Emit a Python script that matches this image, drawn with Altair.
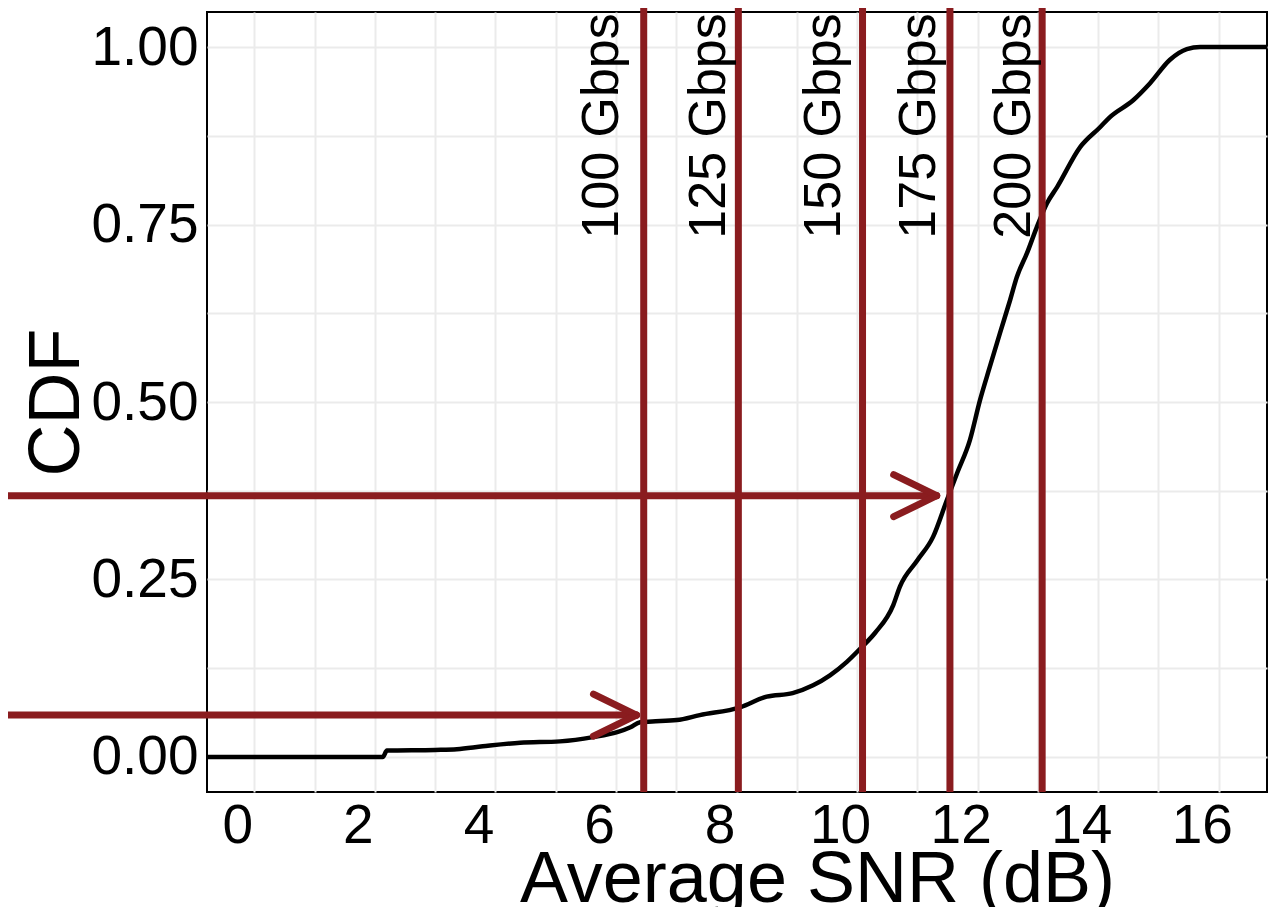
import altair as alt
import pandas as pd

# ---- data ----
cdf_x = [-0.785, 2.13, 2.20, 3.0, 3.36, 3.79, 4.41, 5.07, 5.62, 6.02, 6.24, 6.40, 6.6,
         7.01, 7.39, 8.06, 8.50, 8.93, 9.27, 9.55, 9.83, 10.08, 10.30, 10.60, 10.71, 11.0,
         11.26, 11.49, 11.66, 11.87, 12.04, 12.2, 12.37, 12.54, 12.65, 12.82, 12.98, 13.15,
         13.32, 13.7, 14.03, 14.19, 14.58, 14.86, 15.19, 15.47, 15.69, 16.8]
cdf_y = [0.0, 0.0, 0.009, 0.010, 0.011, 0.015, 0.020, 0.022, 0.028, 0.035, 0.042, 0.049,
         0.050, 0.052, 0.059, 0.070, 0.085, 0.090, 0.101, 0.115, 0.134, 0.155, 0.175, 0.214,
         0.240, 0.277, 0.310, 0.362, 0.400, 0.446, 0.503, 0.549, 0.597, 0.644, 0.676, 0.710,
         0.746, 0.780, 0.803, 0.859, 0.887, 0.901, 0.925, 0.949, 0.982, 0.997, 1.0, 1.0]

rate_labels = ["100 Gbps", "125 Gbps", "150 Gbps", "175 Gbps", "200 Gbps"]
rate_snr = [6.46, 8.03, 10.09, 11.54, 13.07]
label_x = [6.03, 7.81, 9.71, 11.29, 12.87]
label_y = [0.73, 0.73, 0.73, 0.73, 0.73]

arrow_y = [0.059, 0.368]
arrow_tip = [6.34, 11.32]
arrow_start = -4.3

x_ticks = list(range(0, 17))
y_ticks = [0.0, 0.125, 0.25, 0.375, 0.5, 0.625, 0.75, 0.875, 1.0]

# ---- layout / style ----
W, H = 1060, 780
XDOM = [-0.785, 16.8]
YDOM = [-0.0493, 1.0493]
FONT = "Liberation Sans"
RED = "#8A1C1F"
px_x = W / (XDOM[1] - XDOM[0])
px_y = H / (YDOM[1] - YDOM[0])
barb_dx = 43 / px_x
barb_dy = 21 / px_y

xs = alt.Scale(domain=XDOM, nice=False, zero=False)
ys = alt.Scale(domain=YDOM, nice=False, zero=False)

x_axis = alt.Axis(
    values=x_ticks, grid=True, gridColor="#EBEBEB", gridWidth=2,
    ticks=False, tickSize=0, domain=False,
    labelExpr="datum.value % 2 == 0 ? format(datum.value, 'd') : ''",
    labelOffset=-17, labelPadding=7, labelFontSize=55, labelFont=FONT,
    labelColor="black", labelOverlap=False, labelFlush=False,
    title="Average SNR (dB)", titleFontSize=72, titleFont=FONT,
    titleFontWeight="normal", titleColor="black", titleX=610, titleY=109,
    titleAlign="center", titleBaseline="alphabetic",
)
y_axis = alt.Axis(
    values=y_ticks, grid=True, gridColor="#EBEBEB", gridWidth=2,
    ticks=False, tickSize=0, domain=False,
    labelExpr="(datum.value * 4) % 1 == 0 ? format(datum.value, '.2f') : ''",
    labelPadding=9, labelFontSize=55, labelFont=FONT, labelColor="black",
    labelOverlap=False, labelFlush=False,
    title="CDF", titleFontSize=72, titleFont=FONT, titleFontWeight="normal",
    titleColor="black", titleX=-129, titleY=390, titleAngle=270,
    titleAlign="center", titleBaseline="alphabetic",
)

cdf_df = pd.DataFrame({"snr": cdf_x, "cdf": cdf_y})
curve = alt.Chart(cdf_df).mark_line(
    color="black", strokeWidth=4.5, strokeJoin="round", interpolate="monotone"
).encode(
    x=alt.X("snr:Q", scale=xs, axis=x_axis),
    y=alt.Y("cdf:Q", scale=ys, axis=y_axis),
    order=alt.Order("snr:Q"),
)

vl_df = pd.DataFrame({"snr": rate_snr})
vlines = alt.Chart(vl_df).mark_rule(color=RED, strokeWidth=7).encode(
    x=alt.X("snr:Q", scale=xs),
    y=alt.value(-4),
    y2=alt.value(H),
)

shaft_df = pd.DataFrame({"x0": [arrow_start] * len(arrow_y), "x1": arrow_tip, "y": arrow_y})
shafts = alt.Chart(shaft_df).mark_rule(color=RED, strokeWidth=7, strokeCap="round").encode(
    x=alt.X("x0:Q", scale=xs), x2="x1:Q",
    y=alt.Y("y:Q", scale=ys),
)

barb_rows = []
for tx, ty in zip(arrow_tip, arrow_y):
    for s in (1, -1):
        barb_rows.append({"bx": tx - barb_dx, "by": ty + s * barb_dy, "tx": tx, "ty": ty})
barb_df = pd.DataFrame(barb_rows)
barbs = alt.Chart(barb_df).mark_rule(color=RED, strokeWidth=7, strokeCap="round").encode(
    x=alt.X("bx:Q", scale=xs), x2="tx:Q",
    y=alt.Y("by:Q", scale=ys), y2="ty:Q",
)

txt_df = pd.DataFrame({"lx": label_x, "ly": label_y, "t": rate_labels})
texts = alt.Chart(txt_df).mark_text(
    angle=270, align="left", baseline="alphabetic", fontSize=52, font=FONT, color="black"
).encode(
    x=alt.X("lx:Q", scale=xs),
    y=alt.Y("ly:Q", scale=ys),
    text="t:N",
)

chart = alt.layer(curve, vlines, shafts, barbs, texts).properties(
    width=W, height=H,
    padding={"left": 199, "top": 4, "right": 3, "bottom": 115},
    autosize=alt.AutoSizeParams(type="none"),
    background="white",
).configure_view(stroke="black", strokeWidth=2)

chart.save("out.html", embed_options={"renderer": "svg", "actions": False})
